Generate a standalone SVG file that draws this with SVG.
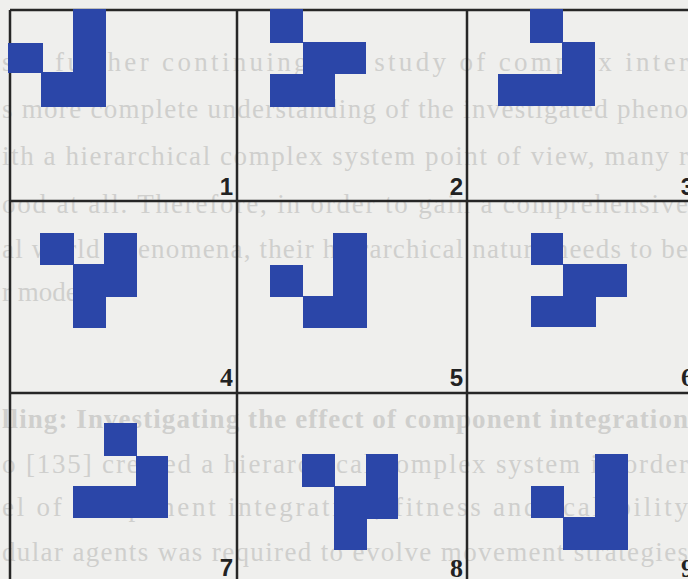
<svg xmlns="http://www.w3.org/2000/svg" width="688" height="579" viewBox="0 0 688 579">
<style>
.bg{fill:#efefed}
.ghost{font-family:"Liberation Serif",serif;font-size:27px;fill:#cfcfcd}
.ghostb{font-family:"Liberation Serif",serif;font-size:27px;font-weight:bold;fill:#cfcfcd}
.grid{stroke:#262626;stroke-width:2.5;fill:none}
.sq{fill:#2b46a8}
.ns{font-family:"Liberation Sans",Arial,sans-serif;font-weight:bold;font-size:24px;fill:#222;text-anchor:end}
.nr{font-family:"Liberation Serif",serif;font-weight:bold;font-size:26px;fill:#222;text-anchor:end}
</style>
<rect class="bg" x="0" y="0" width="688" height="579"/>
<g id="background-text">
<text class="ghost" x="2" y="71" textLength="686" lengthAdjust="spacing">ses further continuing the study of complex inter</text>
<text class="ghost" x="2" y="118" textLength="686" lengthAdjust="spacing">s more complete understanding of the investigated pheno</text>
<text class="ghost" x="2" y="165" textLength="686" lengthAdjust="spacing">ith a hierarchical complex system point of view, many r</text>
<text class="ghost" x="2" y="213" textLength="686" lengthAdjust="spacing">ood at all. Therefore, in order to gain a comprehensive</text>
<text class="ghost" x="2" y="258" textLength="686" lengthAdjust="spacing">al world phenomena, their hierarchical nature needs to be</text>
<text class="ghost" x="2" y="301">r models.</text>
<text class="ghostb" x="2" y="428" textLength="686" lengthAdjust="spacing">lling: Investigating the effect of component integration</text>
<text class="ghost" x="2" y="473" textLength="686" lengthAdjust="spacing">o [135] created a hierarchical complex system in order</text>
<text class="ghost" x="2" y="516" textLength="686" lengthAdjust="spacing">el of component integration, fitness and scalability</text>
<text class="ghost" x="2" y="561" textLength="686" lengthAdjust="spacing">dular agents was required to evolve movement strategies</text>
</g>
<g id="grid">
<path class="grid" d="M10,10 V579 M237,10 V579 M467,10 V579 M10,10 H688 M10,201 H688 M10,393 H688"/>
</g>
<g id="cell-1">
<rect class="sq" x="73" y="9" width="33" height="64"/>
<rect class="sq" x="8" y="43" width="35" height="30"/>
<rect class="sq" x="41" y="72" width="65" height="35"/>
<text class="ns" x="233" y="195">1</text>
</g>
<g id="cell-2">
<rect class="sq" x="270" y="9" width="33" height="34"/>
<rect class="sq" x="303" y="42" width="63" height="32"/>
<rect class="sq" x="270" y="74" width="65" height="33"/>
<text class="ns" x="463" y="195">2</text>
</g>
<g id="cell-3">
<rect class="sq" x="530" y="9" width="33" height="34"/>
<rect class="sq" x="562" y="42" width="33" height="32"/>
<rect class="sq" x="498" y="74" width="97" height="32"/>
<text class="ns" x="694" y="195">3</text>
</g>
<g id="cell-4">
<rect class="sq" x="40" y="233" width="34" height="32"/>
<rect class="sq" x="104" y="233" width="33" height="64"/>
<rect class="sq" x="73" y="264" width="33" height="64"/>
<text class="nr" x="233" y="386">4</text>
</g>
<g id="cell-5">
<rect class="sq" x="333" y="233" width="34" height="95"/>
<rect class="sq" x="270" y="265" width="33" height="32"/>
<rect class="sq" x="303" y="296" width="64" height="32"/>
<text class="ns" x="463" y="386">5</text>
</g>
<g id="cell-6">
<rect class="sq" x="531" y="233" width="32" height="32"/>
<rect class="sq" x="563" y="264" width="64" height="33"/>
<rect class="sq" x="531" y="296" width="65" height="31"/>
<text class="nr" x="694" y="386">6</text>
</g>
<g id="cell-7">
<rect class="sq" x="104" y="423" width="33" height="33"/>
<rect class="sq" x="136" y="456" width="32" height="62"/>
<rect class="sq" x="73" y="486" width="64" height="32"/>
<text class="ns" x="233" y="576">7</text>
</g>
<g id="cell-8">
<rect class="sq" x="302" y="454" width="33" height="33"/>
<rect class="sq" x="366" y="454" width="32" height="65"/>
<rect class="sq" x="334" y="486" width="33" height="64"/>
<text class="nr" x="463" y="577">8</text>
</g>
<g id="cell-9">
<rect class="sq" x="595" y="454" width="33" height="96"/>
<rect class="sq" x="531" y="486" width="33" height="32"/>
<rect class="sq" x="563" y="517" width="33" height="33"/>
<text class="nr" x="694" y="577">9</text>
</g>
</svg>
